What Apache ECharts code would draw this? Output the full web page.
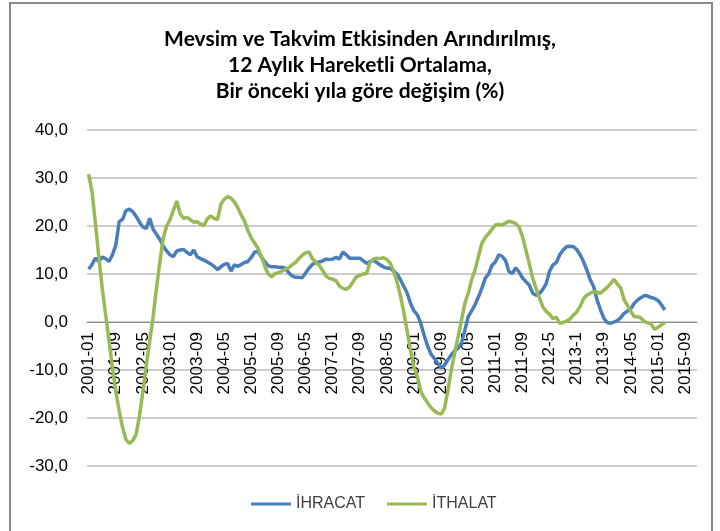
<!DOCTYPE html>
<html>
<head>
<meta charset="utf-8">
<script src="https://cdn.jsdelivr.net/npm/echarts@6/dist/echarts.min.js"></script>
<style>
  html, body { margin: 0; padding: 0; background: #fff; }
  #chart { width: 720px; height: 531px; }
</style>
</head>
<body>
<div id="chart"></div>
<script>
// aylar: 2001-01 .. 2015-12 (veri 2015-03'e kadar)
var years = [2001, 2002, 2003, 2004, 2005, 2006, 2007, 2008, 2009, 2010, 2011, 2012, 2013, 2014, 2015];

// İHRACAT, 12 aylık hareketli ortalama, yıllık değişim (%)
var ihracat = [
  11.0, 12.0, 13.3, 12.6, 13.5, 13.2, 12.6, 14.0, 16.0, 20.9, 21.4, 23.2,
  23.5, 23.0, 22.0, 20.8, 19.8, 19.5, 21.6, 19.3, 18.3, 17.2, 15.8, 14.8,
  14.0, 13.6, 14.8, 15.0, 15.1, 14.5, 14.0, 15.0, 13.6, 13.2, 12.9, 12.5,
  12.1, 11.6, 10.9, 11.5, 12.0, 12.2, 10.6, 11.9, 11.6, 12.0, 12.4, 12.6,
  13.5, 14.6, 14.7, 13.5, 12.5, 11.7, 11.5, 11.5, 11.4, 11.4, 11.2, 10.3,
  9.6, 9.3, 9.3, 9.2, 10.2, 11.2, 12.0, 12.4, 12.5, 12.7, 13.1, 13.0,
  13.1, 13.5, 13.1, 14.6, 14.0, 13.3, 13.3, 13.3, 13.3, 12.8, 12.2, 12.6,
  12.9, 12.4, 11.9, 11.5, 11.2, 11.2, 10.6, 10.0, 8.8, 7.4, 6.0, 3.8,
  2.3, 1.5, -0.3, -2.8, -5.0, -6.7, -7.6, -8.6, -9.6, -9.0, -7.9, -6.8,
  -6.0, -5.5, -4.4, -1.7, 1.1, 2.3, 3.6, 5.2, 7.0, 9.1, 10.0, 11.8,
  12.5, 14.0, 13.7, 12.8, 10.5, 10.1, 11.3, 10.4, 9.2, 8.4, 7.7, 6.0,
  5.6, 5.9, 6.8, 8.0, 10.6, 11.9, 12.4, 14.0, 15.0, 15.7, 15.8, 15.7,
  15.1, 14.0, 12.6, 10.8, 8.8, 7.4, 4.6, 2.6, 0.8, -0.1, -0.3, 0.0,
  0.3, 0.9, 1.8, 2.3, 2.8, 3.9, 4.6, 5.1, 5.5, 5.4, 5.1, 4.9,
  4.5, 3.6, 2.5
];

// İTHALAT
var ithalat = [
  30.8, 27.0, 20.5, 13.5, 7.0, 1.5, -3.8, -9.5, -14.5, -18.5, -22.0, -24.5,
  -25.3, -24.7, -23.4, -19.5, -14.5, -9.0, -4.0, 1.0, 7.0, 12.5, 17.5, 20.0,
  21.3, 23.3, 25.2, 22.5, 21.6, 21.8, 21.3, 20.8, 20.9, 20.4, 20.1, 21.5,
  22.1, 21.6, 21.3, 24.5, 25.6, 26.1, 25.8, 25.0, 23.8, 22.3, 21.0, 19.0,
  17.5, 16.4, 15.3, 13.6, 11.5, 10.0, 9.4, 10.1, 10.3, 10.6, 11.0, 11.3,
  11.9, 12.4, 13.2, 13.9, 14.4, 14.6, 13.2, 12.5, 11.8, 10.8, 9.6, 9.1,
  8.9, 8.6, 7.5, 7.0, 6.8, 7.3, 8.4, 9.4, 9.7, 10.0, 10.1, 12.4,
  13.1, 13.3, 13.2, 13.4, 13.0, 12.2, 10.6, 8.3, 5.5, 2.0, -2.0, -6.0,
  -9.5, -11.5, -14.5, -15.8, -16.8, -17.8, -18.5, -19.0, -19.2, -18.0, -14.2, -10.0,
  -6.5, -3.1, 0.4, 3.9, 6.0, 8.8, 10.8, 13.6, 16.4, 17.6, 18.4, 19.3,
  20.2, 20.3, 20.2, 20.6, 21.0, 20.8, 20.5, 19.8, 17.8, 15.0, 12.2, 9.2,
  7.0, 5.0, 3.2, 2.2, 1.6, 0.7, 1.0, -0.3, -0.1, 0.2, 0.6, 1.4,
  2.1, 3.2, 4.8, 5.6, 6.0, 6.3, 6.2, 6.0, 6.6, 7.2, 8.0, 8.9,
  7.9, 7.1, 4.6, 3.4, 2.2, 1.1, 1.1, 0.8, 0.1, -0.2, -0.5, -1.5,
  -1.1, -0.6, -0.1
];

// kategori etiketleri (2012 ve 2013 kaynakta sıfırsız yazılmış)
var months = [];
years.forEach(function (y) {
  for (var m = 1; m <= 12; m++) {
    var mm = (y === 2012 || y === 2013) ? String(m) : (m < 10 ? '0' + m : String(m));
    months.push(y + '-' + mm);
  }
});

var yMin = -30, yMax = 40;
var gridTop = 130, gridBottom = 65;
var plotH = 531 - gridTop - gridBottom;
// kategori ekseni sıfır çizgisinde dursun
var zeroOffset = -plotH * (0 - yMin) / (yMax - yMin);

var chart = echarts.init(document.getElementById('chart'));

var option = {
  animation: false,
  backgroundColor: '#fff',
  title: {
    text: 'Mevsim ve Takvim Etkisinden Arındırılmış,\n12 Aylık Hareketli Ortalama,\nBir önceki yıla göre değişim (%)',
    left: 'center',
    top: 21,
    textStyle: {
      fontFamily: 'Lato',
      fontWeight: 'bold',
      fontSize: 21,
      lineHeight: 26,
      color: '#000'
    }
  },
  graphic: [{
    type: 'rect',
    shape: { x: 10, y: 3, width: 702, height: 540 },
    style: { fill: 'none', stroke: '#898989', lineWidth: 2 },
    silent: true
  }],
  legend: {
    bottom: 14,
    left: 246,
    itemWidth: 40,
    itemHeight: 3,
    itemGap: 22,
    icon: 'rect',
    textStyle: { fontFamily: 'Liberation Sans', fontSize: 16, color: '#404040' },
    data: ['İHRACAT', 'İTHALAT']
  },
  grid: {
    left: 87,
    right: 23,
    top: gridTop,
    bottom: gridBottom
  },
  xAxis: {
    type: 'category',
    data: months,
    boundaryGap: true,
    offset: zeroOffset,
    axisLine: { onZero: false, lineStyle: { color: '#8c8c8c', width: 1 } },
    axisTick: { show: false },
    axisLabel: {
      interval: 7,
      rotate: 90,
      margin: 10,
      fontFamily: 'Liberation Sans',
      fontSize: 17,
      color: '#000'
    },
    splitLine: { show: false }
  },
  yAxis: {
    type: 'value',
    min: yMin,
    max: yMax,
    interval: 10,
    axisLine: { show: false },
    axisTick: { show: false },
    axisLabel: {
      margin: 19,
      fontFamily: 'Liberation Sans',
      fontSize: 17,
      color: '#000',
      formatter: function (v) { return v.toFixed(1).replace('.', ','); }
    },
    splitLine: { lineStyle: { color: '#bdbdbd', width: 1.5 } }
  },
  series: [
    {
      name: 'İHRACAT',
      type: 'line',
      data: ihracat,
      showSymbol: false,
      itemStyle: { color: '#4a7ebb' },
      lineStyle: { color: '#4a7ebb', width: 3.5 }
    },
    {
      name: 'İTHALAT',
      type: 'line',
      data: ithalat,
      showSymbol: false,
      itemStyle: { color: '#98b954' },
      lineStyle: { color: '#98b954', width: 3.5 }
    }
  ]
};

chart.setOption(option);
</script>
</body>
</html>
